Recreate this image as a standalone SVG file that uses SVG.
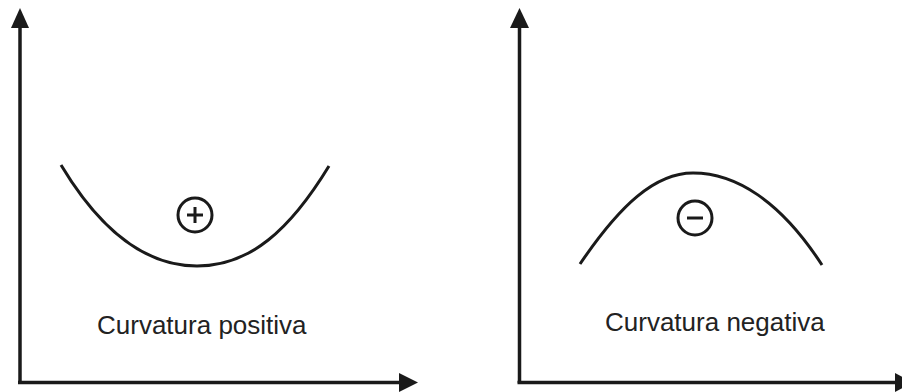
<svg xmlns="http://www.w3.org/2000/svg" width="902" height="392" viewBox="0 0 902 392">
<style>
.ax{stroke:#1a1a1a;stroke-width:3.5;fill:none}
.cv{stroke:#1a1a1a;stroke-width:3;fill:none}
.hd{fill:#1a1a1a}
.lb{font-family:"Liberation Sans",Arial,sans-serif;font-size:26px;fill:#222}
</style>
<rect width="902" height="392" fill="#fff"/>
<g id="connectors">
<line class="ax" x1="20" y1="26" x2="20" y2="383"/>
<polygon class="hd" points="20,8 11,28 29,28"/>
<line class="ax" x1="18" y1="382.5" x2="401" y2="382.5"/>
<polygon class="hd" points="418,382.5 399,373 399,392"/>
<line class="ax" x1="519.5" y1="26" x2="519.5" y2="383"/>
<polygon class="hd" points="519.5,8 510,28 529,28"/>
<line class="ax" x1="517.5" y1="382.5" x2="897" y2="382.5"/>
<polygon class="hd" points="913,382.5 895,373 895,392"/>
</g>
<g id="positive">
<path class="cv" d="M61,165 C100,230 145,266 197,266 C250,266 290,230 329,166"/>
<circle class="cv" cx="195" cy="215" r="17" stroke-width="2.5"/>
<path class="cv" d="M187,215 H203 M195,207 V223" stroke-width="3"/>
<text class="lb" x="97" y="334">Curvatura positiva</text>
</g>
<g id="negative">
<path class="cv" d="M580,264 C620,205 655,173 693,173 C735,173 780,200 822,265"/>
<circle class="cv" cx="695" cy="218" r="17" stroke-width="2.5"/>
<path class="cv" d="M687,218 H703" stroke-width="3"/>
<text class="lb" x="605" y="331">Curvatura negativa</text>
</g>
</svg>
